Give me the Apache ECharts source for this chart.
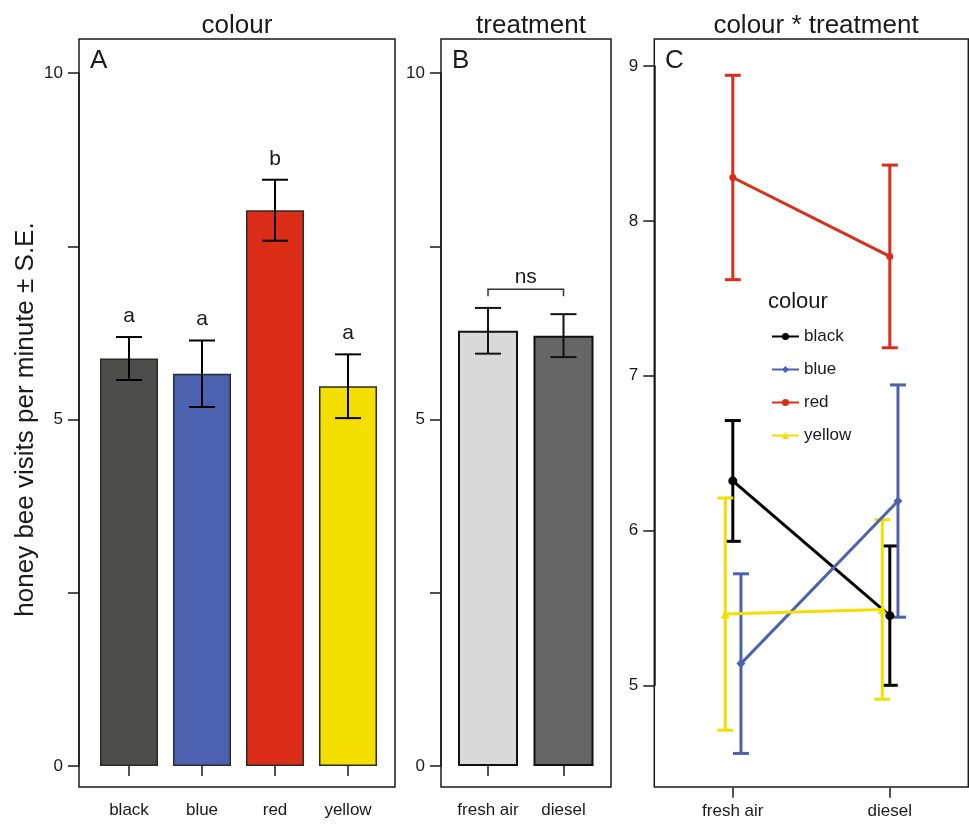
<!DOCTYPE html>
<html>
<head>
<meta charset="utf-8">
<script src="https://cdn.jsdelivr.net/npm/echarts@6/dist/echarts.min.js"></script>
<style>
  html, body { margin: 0; padding: 0; background: #fff; }
  #cn { width: 969px; height: 824px; }
</style>
</head>
<body>
<div id="cn"></div>
<script>
'use strict';

// panel A: colour
const colours = ['black', 'blue', 'red', 'yellow'];
const colourMean = [5.88, 5.66, 8.02, 5.48];
const colourSE = [0.31, 0.48, 0.44, 0.46];
const colourLetters = ['a', 'a', 'b', 'a'];

// panel B: treatment
const treatments = ['fresh air', 'diesel'];
const treatmentMean = [6.28, 6.21];
const treatmentSE = [0.33, 0.31];
const bracketValue = 6.88;
const bracketLabel = 'ns';

// panel C: colour * treatment (fresh air, diesel)
const blackMean = [6.32, 5.45];
const blackSE = [0.39, 0.45];
const blueMean = [5.14, 6.19];
const blueSE = [0.58, 0.75];
const redMean = [8.28, 7.77];
const redSE = [0.66, 0.59];
const yellowMean = [5.46, 5.49];
const yellowSE = [0.75, 0.58];

const ticksAB = [0, 5, 10]; // labelled ticks

const FONT = "'Liberation Sans', Arial, sans-serif";
const INK = '#1a1a1a';
const barColours = ['#4d4d4b', '#4c62b0', '#dc2d19', '#f2df00'];
const treatColours = ['#d9d9d9', '#666666'];
const lineColours = ['#000000', '#4c62b0', '#dc2d19', '#f2df00'];
const symbols = ['circle', 'diamond', 'circle', 'triangle'];
const symbolSizes = [9, 9, 7, 9];
const dodge = [0, 0.052, 0, -0.048]; // horizontal dodge in category units

const errorBar = (capHalf, width, colourOf, labels) => (params, api) => {
    const x = api.value(0);
    const m = api.value(1);
    const se = api.value(2);
    const top = api.coord([x, m + se]);
    const bot = api.coord([x, m - se]);
    const col = colourOf(params.dataIndex);
    const st = { stroke: col, lineWidth: width };
    const children = [
        { type: 'line', shape: { x1: top[0], y1: top[1], x2: bot[0], y2: bot[1] }, style: st },
        { type: 'line', shape: { x1: top[0] - capHalf, y1: top[1], x2: top[0] + capHalf, y2: top[1] }, style: st },
        { type: 'line', shape: { x1: bot[0] - capHalf, y1: bot[1], x2: bot[0] + capHalf, y2: bot[1] }, style: st }
    ];
    if (labels) {
        children.push({
            type: 'text',
            style: {
                text: labels[params.dataIndex], x: top[0], y: top[1] - 21,
                align: 'center', verticalAlign: 'middle',
                font: '21px ' + FONT, fill: INK
            }
        });
    }
    return { type: 'group', children: children };
};

const frameGrid = (left, width) => ({
    left: left, top: 39, width: width, height: 748,
    show: true, borderColor: INK, borderWidth: 1.5, backgroundColor: 'transparent'
});
const hiddenAxis = (gridIndex) => ({ type: 'value', gridIndex: gridIndex, show: false });

const catAxis = (gridIndex, data, offset) => ({
    type: 'category', gridIndex: gridIndex, data: data, offset: offset,
    axisLine: { show: false },
    axisTick: { show: true, alignWithLabel: true, length: 10, lineStyle: { color: INK, width: 1.5 } },
    axisLabel: { color: INK, fontSize: 17, fontFamily: FONT, margin: 15, interval: 0 }
});

const valAxisAB = (gridIndex, offset) => ({
    type: 'value', gridIndex: gridIndex, min: 0, max: 10, interval: 2.5, offset: offset,
    splitLine: { show: false },
    axisLine: { show: true, onZero: false, lineStyle: { color: INK, width: 1.5 } },
    axisTick: { show: true, length: 11, lineStyle: { color: INK, width: 1.5 } },
    axisLabel: {
        color: INK, fontSize: 17, fontFamily: FONT, margin: 16,
        formatter: v => ticksAB.includes(v) ? String(v) : ''
    }
});

const chart = echarts.init(document.getElementById('cn'));

const yA = valAxisAB(1, 13.5);
yA.name = 'honey bee visits per minute \u00b1 S.E.';
yA.nameLocation = 'middle';
yA.nameGap = 40;
yA.nameTextStyle = { fontSize: 26, fontFamily: FONT, color: INK };

const option = {
    animation: false,
    backgroundColor: '#fff',
    textStyle: { fontFamily: FONT },
    title: [
        { text: 'colour', left: 232, top: 8, textAlign: 'center', textStyle: { fontSize: 26, fontWeight: 'normal', color: INK } },
        { text: 'treatment', left: 526, top: 8, textAlign: 'center', textStyle: { fontSize: 26, fontWeight: 'normal', color: INK } },
        { text: 'colour * treatment', left: 811, top: 8, textAlign: 'center', textStyle: { fontSize: 26, fontWeight: 'normal', color: INK } },
        { text: 'A', left: 90, top: 48, padding: 0, textStyle: { fontSize: 26, fontWeight: 'normal', color: INK } },
        { text: 'B', left: 452, top: 48, padding: 0, textStyle: { fontSize: 26, fontWeight: 'normal', color: INK } },
        { text: 'C', left: 665, top: 48, padding: 0, textStyle: { fontSize: 26, fontWeight: 'normal', color: INK } },
        { text: 'colour', left: 768, top: 291, padding: 0, textStyle: { fontSize: 22, fontWeight: 'normal', color: INK } }
    ],
    legend: {
        data: colours,
        orient: 'vertical',
        left: 771, top: 328,
        padding: 0,
        itemWidth: 27, itemHeight: 9, itemGap: 16,
        textStyle: { fontSize: 17, color: INK, fontFamily: FONT }
    },
    grid: [
        frameGrid(79, 316),
        { left: 92.5, top: 73, width: 292, height: 693 },
        frameGrid(441, 170),
        { left: 450.25, top: 73, width: 151, height: 693 },
        frameGrid(654.3, 314),
        { left: 654.3, top: 66, width: 314, height: 619.3 }
    ],
    xAxis: [
        hiddenAxis(0),
        catAxis(1, colours, 21),
        hiddenAxis(2),
        catAxis(3, treatments, 21),
        hiddenAxis(4),
        catAxis(5, treatments, 102.4),
        { type: 'value', gridIndex: 5, min: -0.5, max: 1.5, show: false, position: 'top', axisLine: { onZero: false } }
    ],
    yAxis: [
        hiddenAxis(0),
        yA,
        hiddenAxis(2),
        valAxisAB(3, 9.25),
        hiddenAxis(4),
        {
            type: 'value', gridIndex: 5, min: 5, max: 9, interval: 1,
            splitLine: { show: false },
            axisLine: { show: true, onZero: false, lineStyle: { color: INK, width: 1.5 } },
            axisTick: { show: true, length: 11, lineStyle: { color: INK, width: 1.5 } },
            axisLabel: { color: INK, fontSize: 17, fontFamily: FONT, margin: 16 }
        }
    ],
    series: [
        {
            type: 'bar', xAxisIndex: 1, yAxisIndex: 1,
            barCategoryGap: '20.5%',
            data: colourMean.map((v, i) => ({ value: v, itemStyle: { color: barColours[i] } })),
            itemStyle: { borderColor: '#2b2b2b', borderWidth: 1.5 }
        },
        {
            type: 'custom', xAxisIndex: 1, yAxisIndex: 1, clip: false, z: 5,
            data: colourMean.map((v, i) => [i, v, colourSE[i]]),
            renderItem: errorBar(13, 2, () => '#000', colourLetters)
        },
        {
            type: 'bar', xAxisIndex: 3, yAxisIndex: 3,
            barCategoryGap: '20.5%',
            data: treatmentMean.map((v, i) => ({ value: v, itemStyle: { color: treatColours[i] } })),
            itemStyle: { borderColor: '#111', borderWidth: 2 }
        },
        {
            type: 'custom', xAxisIndex: 3, yAxisIndex: 3, clip: false, z: 5,
            data: treatmentMean.map((v, i) => [i, v, treatmentSE[i]]),
            renderItem: errorBar(13, 2, () => '#111')
        },
        {
            type: 'custom', xAxisIndex: 3, yAxisIndex: 3, clip: false, z: 5,
            data: [[0, 1, bracketValue]],
            renderItem: (params, api) => {
                const a = api.coord([api.value(0), api.value(2)]);
                const b = api.coord([api.value(1), api.value(2)]);
                const st = { stroke: '#333', lineWidth: 1.5, fill: null };
                return {
                    type: 'group',
                    children: [
                        { type: 'polyline', shape: { points: [[a[0], a[1] + 7], a, b, [b[0], b[1] + 7]] }, style: st },
                        {
                            type: 'text',
                            style: {
                                text: bracketLabel, x: (a[0] + b[0]) / 2, y: a[1] - 12,
                                align: 'center', verticalAlign: 'middle', font: '21px ' + FONT, fill: INK
                            }
                        }
                    ]
                };
            }
        },
        {
            type: 'custom', xAxisIndex: 6, yAxisIndex: 5, clip: false, z: 3,
            data: [blackMean, blueMean, redMean, yellowMean].flatMap((m, c) => {
                const se = [blackSE, blueSE, redSE, yellowSE][c];
                return m.map((v, t) => [t + dodge[c], v, se[t], c]);
            }),
            renderItem: (params, api) => errorBar(8, 3, () => lineColours[api.value(3)])(params, api)
        }
    ].concat([blackMean, blueMean, redMean, yellowMean].map((m, c) => ({
        name: colours[c],
        type: 'line', xAxisIndex: 6, yAxisIndex: 5, z: 4,
        data: m.map((v, t) => [t + dodge[c], v]),
        symbol: symbols[c], symbolSize: symbolSizes[c],
        lineStyle: { color: lineColours[c], width: 3 },
        itemStyle: { color: lineColours[c] }
    })))
};

chart.setOption(option);
</script>
</body>
</html>
